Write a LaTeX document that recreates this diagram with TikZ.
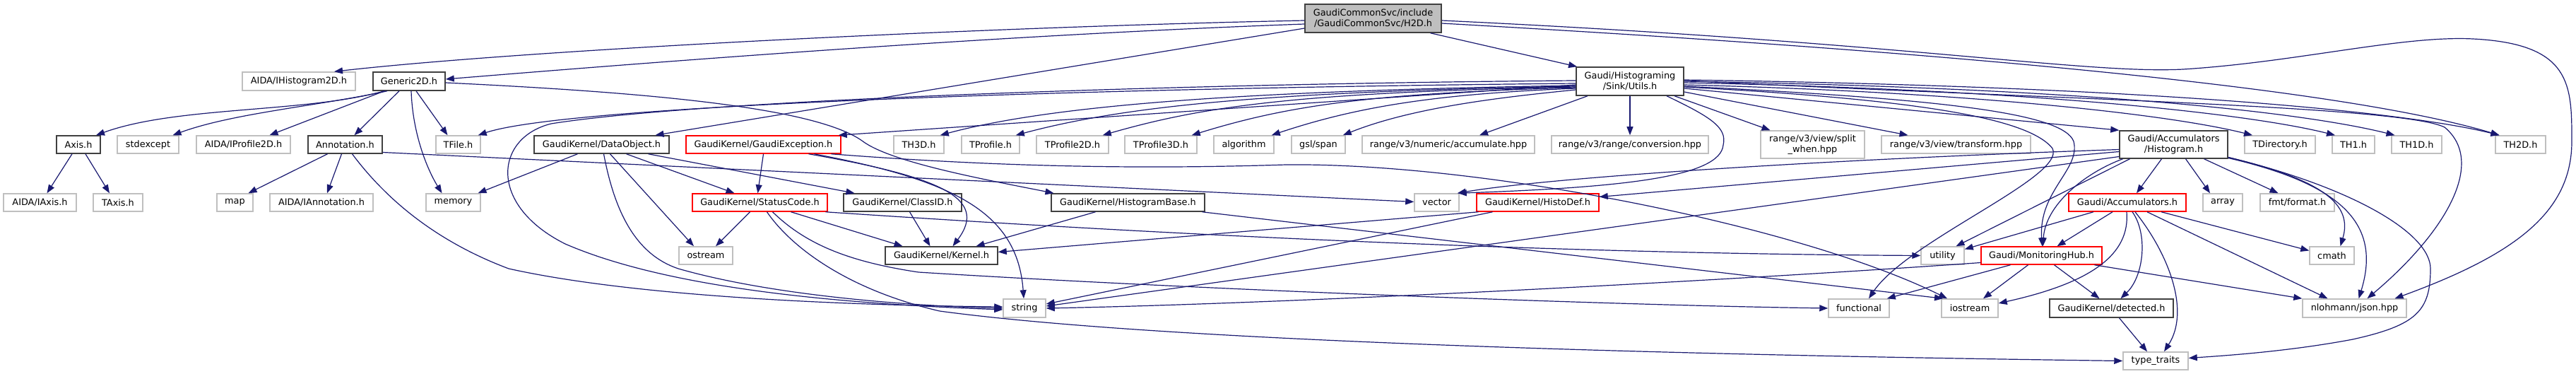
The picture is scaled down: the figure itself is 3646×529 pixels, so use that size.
\documentclass[tikz,border=0pt]{standalone}
\usepackage{fontspec}
\setmainfont{DejaVu Sans}
\usetikzlibrary{arrows.meta}
\definecolor{edgecol}{HTML}{191970}
\definecolor{boxgray}{HTML}{BFBFBF}
\definecolor{boxdark}{HTML}{404040}
\tikzset{
  incl/.style={draw=boxdark, line width=1.5pt, fill=white, minimum height=25pt,
    inner sep=0pt, align=center, font=\fontsize{12.85}{14.9}\selectfont},
  sysincl/.style={incl, draw=boxgray},
  cutincl/.style={incl, draw=red},
  topincl/.style={incl, fill=boxgray, minimum height=40pt},
  dep/.style={color=edgecol, line width=1.2pt, -{Triangle[length=12pt,width=9pt]}},
}
\begin{document}
\begin{tikzpicture}[x=1pt,y=-1pt]
\useasboundingbox (0,0) rectangle (3646,529);

% files
\node[topincl, minimum width=193pt] (root) at (1943.5,26) {GaudiCommonSvc/include\\/GaudiCommonSvc/H2D.h};

\node[sysincl, minimum width=160pt, minimum height=26pt] (ih2d) at (423,115) {AIDA/IHistogram2D.h};
\node[incl, minimum width=102pt, minimum height=26pt] (gen) at (579,115) {Generic2D.h};
\node[incl, minimum width=152pt, minimum height=40pt] (utils) at (2307,115) {Gaudi/Histograming\\/Sink/Utils.h};

\node[incl, minimum width=62pt] (axis) at (111,204.5) {Axis.h};
\node[sysincl, minimum width=87pt] (stdexc) at (209.5,204.5) {stdexcept};
\node[sysincl, minimum width=133pt] (ip2d) at (344.5,204.5) {AIDA/IProfile2D.h};
\node[incl, minimum width=105pt] (annot) at (488.5,204.5) {Annotation.h};
\node[sysincl, minimum width=63pt] (tfile) at (648.5,204.5) {TFile.h};
\node[incl, minimum width=191pt] (dobj) at (851.5,204.5) {GaudiKernel/DataObject.h};
\node[cutincl, minimum width=219pt] (gexc) at (1080.5,204.5) {GaudiKernel/GaudiException.h};
\node[sysincl, minimum width=71pt] (th3d) at (1300.5,204.5) {TH3D.h};
\node[sysincl, minimum width=82pt] (tprof) at (1402,204.5) {TProfile.h};
\node[sysincl, minimum width=102pt] (tprof2) at (1518,204.5) {TProfile2D.h};
\node[sysincl, minimum width=102pt] (tprof3) at (1643,204.5) {TProfile3D.h};
\node[sysincl, minimum width=85pt] (algo) at (1760.5,204.5) {algorithm};
\node[sysincl, minimum width=76pt] (span) at (1866,204.5) {gsl/span};
\node[sysincl, minimum width=244pt] (accum) at (2050,204.5) {range/v3/numeric/accumulate.hpp};
\node[sysincl, minimum width=222pt] (conv) at (2307,204.5) {range/v3/range/conversion.hpp};
\node[sysincl, minimum width=147pt, minimum height=39pt] (split) at (2565.5,204.5) {range/v3/view/split\\\_when.hpp};
\node[sysincl, minimum width=211pt] (trans) at (2768.5,204.5) {range/v3/view/transform.hpp};
\node[incl, minimum width=153pt, minimum height=39pt] (hist) at (3076.5,204.5) {Gaudi/Accumulators\\/Histogram.h};
\node[sysincl, minimum width=100pt] (tdir) at (3227,204.5) {TDirectory.h};
\node[sysincl, minimum width=60pt] (th1) at (3331,204.5) {TH1.h};
\node[sysincl, minimum width=71pt] (th1d) at (3420.5,204.5) {TH1D.h};
\node[sysincl, minimum width=71pt] (th2d) at (3567.5,204.5) {TH2D.h};

\node[sysincl, minimum width=103pt] (iaxis) at (56.5,286.5) {AIDA/IAxis.h};
\node[sysincl, minimum width=70pt] (taxis) at (167,286.5) {TAxis.h};
\node[sysincl, minimum width=51pt] (map) at (332.5,286.5) {map};
\node[sysincl, minimum width=146pt] (iannot) at (455,286.5) {AIDA/IAnnotation.h};
\node[sysincl, minimum width=77pt] (memory) at (641.5,286.5) {memory};
\node[cutincl, minimum width=191pt] (sc) at (1075.5,286.5) {GaudiKernel/StatusCode.h};
\node[incl, minimum width=167pt] (cid) at (1277.5,286.5) {GaudiKernel/ClassID.h};
\node[incl, minimum width=217pt] (hbase) at (1596.5,286.5) {GaudiKernel/HistogramBase.h};
\node[sysincl, minimum width=63pt] (vector) at (2033.5,286.5) {vector};
\node[cutincl, minimum width=173pt] (hdef) at (2176.5,286.5) {GaudiKernel/HistoDef.h};
\node[cutincl, minimum width=166pt] (accs) at (3011,286.5) {Gaudi/Accumulators.h};
\node[sysincl, minimum width=56pt] (array) at (3146,286.5) {array};
\node[sysincl, minimum width=105pt] (fmt) at (3251.5,286.5) {fmt/format.h};

\node[sysincl, minimum width=76pt] (ostream) at (999,361.5) {ostream};
\node[incl, minimum width=159pt] (kernel) at (1332.5,361.5) {GaudiKernel/Kernel.h};
\node[sysincl, minimum width=61pt] (utility) at (2749.5,361.5) {utility};
\node[cutincl, minimum width=171pt] (mhub) at (2889.5,361.5) {Gaudi/MonitoringHub.h};
\node[sysincl, minimum width=63pt] (cmath) at (3300.5,361.5) {cmath};

\node[sysincl, minimum width=60pt, minimum height=26pt] (string) at (1450,436) {string};
\node[sysincl, minimum width=86pt, minimum height=26pt] (func) at (2631,436) {functional};
\node[sysincl, minimum width=80pt, minimum height=26pt] (iostr) at (2788,436) {iostream};
\node[incl, minimum width=175pt, minimum height=26pt] (detect) at (2988.5,436) {GaudiKernel/detected.h};
\node[sysincl, minimum width=147pt, minimum height=26pt] (json) at (3332.5,436) {nlohmann/json.hpp};

\node[sysincl, minimum width=92pt] (ttraits) at (3051,510.5) {type\_traits};

% H2D.h
\draw[dep] ([yshift=-3pt]root.west) .. controls (1400,38) and (750,70) .. ([xshift=50pt]ih2d.north);
\draw[dep] ([yshift=-8pt]root.west) .. controls (1400,50) and (900,90) .. ([yshift=3pt]gen.east);
\draw[dep] ([xshift=81pt]root.south) -- ([xshift=-75pt]utils.north);
\draw[dep] ([yshift=-14pt]root.west) -- ([xshift=76pt]dobj.north);
\draw[dep] ([yshift=-7pt]root.east) .. controls (2700,70) and (3300,120) .. ([xshift=-30pt]th2d.north);
\draw[dep] ([yshift=-3pt]root.east) .. controls (2700,60) and (2950,105) .. (3090,98)
  .. controls (3250,88) and (3400,50) .. (3500,55) .. controls (3640,62) and (3640,120) .. (3640,200)
  .. controls (3640,300) and (3560,360) .. ([xshift=57pt]json.north);

% Generic2D.h
\draw[dep] ([xshift=-35pt]gen.south) .. controls (430,160) and (250,150) .. ([xshift=25pt]axis.north);
\draw[dep] ([xshift=-31pt]gen.south) .. controls (450,150) and (330,160) .. ([xshift=35pt]stdexc.north);
\draw[dep] ([xshift=-35pt]gen.south) -- ([xshift=37pt]ip2d.north);
\draw[dep] ([xshift=-14pt]gen.south) -- ([xshift=13pt]annot.north);
\draw[dep] ([xshift=3pt]gen.south) .. controls (584,190) and (605,240) .. ([xshift=-16pt]memory.north);
\draw[dep] ([xshift=10pt]gen.south) -- ([xshift=-15pt]tfile.north);
\draw[dep] ([yshift=-2pt]gen.east) .. controls (900,130) and (1150,150) .. (1220,199)
  .. controls (1260,230) and (1400,255) .. ([xshift=-105pt]hbase.north);

% Axis.h, Annotation.h
\draw[dep] ([xshift=-9pt]axis.south) -- ([xshift=10pt]iaxis.north);
\draw[dep] ([xshift=10pt]axis.south) -- ([xshift=-12pt]taxis.north);
\draw[dep] ([xshift=-25pt]annot.south) -- ([xshift=19pt]map.north);
\draw[dep] ([xshift=-5pt]annot.south) -- ([xshift=8pt]iannot.north);
\draw[dep] ([xshift=10pt]annot.south) .. controls (560,300) and (640,350) .. (720,380)
  .. controls (900,420) and (1200,432) .. ([yshift=2pt]string.west);
\draw[dep] ([yshift=-11pt]annot.east) -- ([yshift=1pt]vector.west);

% DataObject.h
\draw[dep] ([xshift=-34pt]dobj.south) -- ([xshift=35pt]memory.north);
\draw[dep] ([xshift=3pt]dobj.south) .. controls (870,300) and (900,360) .. (960,380)
  .. controls (1100,420) and (1300,433) .. (string.west);
\draw[dep] ([xshift=12pt]dobj.south) -- ([xshift=-17pt]ostream.north);
\draw[dep] ([xshift=35pt]dobj.south) -- ([xshift=-36pt]sc.north);
\draw[dep] ([xshift=66pt]dobj.south) -- ([xshift=-68pt]cid.north);

% GaudiException.h
\draw[dep] (gexc.south) -- ([xshift=-3pt]sc.north);
\draw[dep] ([xshift=64pt]gexc.south) .. controls (1330,250) and (1400,280) .. ([xshift=16pt]kernel.north);
\draw[dep] ([xshift=72pt]gexc.south) .. controls (1350,255) and (1440,300) .. ([xshift=-1pt]string.north);
\draw[dep] ([xshift=96pt]gexc.south) .. controls (1400,235) and (1600,240) .. (1820,233)
  .. controls (2100,230) and (2550,320) .. ([xshift=-32pt]iostr.north);

% StatusCode.h
\draw[dep] ([xshift=-14pt]sc.south) -- ([xshift=14pt]ostream.north);
\draw[dep] ([xshift=44pt]sc.south) -- ([xshift=-55pt]kernel.north);
\draw[dep] ([xshift=93pt]sc.south) .. controls (1500,322) and (2100,358) .. (utility.west);
\draw[dep] ([xshift=18pt]sc.south) .. controls (1140,345) and (1200,370) .. (1300,385)
  .. controls (1700,410) and (2300,432) .. (func.west);
\draw[dep] ([xshift=10pt]sc.south) .. controls (1120,350) and (1200,410) .. (1330,440)
  .. controls (1700,490) and (2600,505) .. (ttraits.west);

% ClassID.h, HistogramBase.h, HistoDef.h
\draw[dep] ([xshift=10pt]cid.south) -- ([xshift=-16pt]kernel.north);
\draw[dep] ([xshift=-46pt]hbase.south) -- ([xshift=49pt]kernel.north);
\draw[dep] ([xshift=105pt]hbase.south) -- ([xshift=-38pt]iostr.north);
\draw[dep] ([xshift=-84pt]hdef.south) -- ([yshift=5pt]kernel.east);
\draw[dep] ([xshift=-64pt]hdef.south) -- ([yshift=6pt]string.east);

% Accumulators/Histogram.h
\draw[dep] ([xshift=-17pt]hist.south) -- ([xshift=13pt]accs.north);
\draw[dep] ([xshift=17pt]hist.south) -- ([xshift=-18pt]array.north);
\draw[dep] ([xshift=43pt]hist.south) -- ([xshift=-27pt]fmt.north);
\draw[dep] ([yshift=-18pt]hist.east) .. controls (3290,255) and (3330,290) .. ([xshift=12pt]cmath.north);
\draw[dep] ([yshift=-19pt]hist.east) .. controls (3320,262) and (3370,320) .. ([xshift=6pt]json.north);
\draw[dep] ([yshift=-18pt]hist.east) .. controls (3330,265) and (3440,330) .. (3440,380)
  .. controls (3440,440) and (3420,460) .. (3330,480) .. controls (3240,497) and (3150,503) .. ([yshift=4pt]ttraits.east);
\draw[dep] ([xshift=-62pt]hist.south) -- ([xshift=19pt]utility.north);
\draw[dep] ([xshift=-72pt]hist.south) .. controls (2950,245) and (2895,290) .. ([xshift=2pt]mhub.north);
\draw[dep] ([yshift=-10pt]hist.west) -- ([yshift=8pt]hdef.east);
\draw[dep] ([yshift=-7pt]hist.west) .. controls (2600,225) and (2200,250) .. ([xshift=-3pt]vector.north east);
\draw[dep] ([yshift=-17pt]hist.west) -- ([yshift=3pt]string.east);

% Accumulators.h
\draw[dep] ([xshift=-48pt]accs.south) -- ([yshift=9pt]utility.east);
\draw[dep] ([xshift=-21pt]accs.south) -- ([xshift=22pt]mhub.north);
\draw[dep] ([xshift=-1pt]accs.south) .. controls (3015,360) and (2960,400) .. ([yshift=7pt]iostr.east);
\draw[dep] ([xshift=7pt]accs.south) .. controls (3040,330) and (3035,390) .. ([xshift=13pt]detect.north);
\draw[dep] ([xshift=11pt]accs.south) .. controls (3070,360) and (3100,440) .. ([xshift=12pt]ttraits.north);
\draw[dep] ([xshift=28pt]accs.south) -- ([xshift=-38pt]json.north);
\draw[dep] ([xshift=48pt]accs.south) -- ([yshift=7pt]cmath.west);

% MonitoringHub.h, detected.h
\draw[dep] ([yshift=-10pt]mhub.west) .. controls (2400,400) and (1800,430) .. (string.east);
\draw[dep] ([xshift=-44pt]mhub.south) -- ([xshift=-4pt]func.north east);
\draw[dep] ([xshift=-19pt]mhub.south) -- ([xshift=19pt]iostr.north);
\draw[dep] ([xshift=18pt]mhub.south) -- ([xshift=-17pt]detect.north);
\draw[dep] ([xshift=75pt]mhub.south) -- (json.north west);
\draw[dep] ([xshift=11pt]detect.south) -- ([xshift=-12pt]ttraits.north);

% Sink/Utils.h
\draw[dep] ([yshift=-3pt]utils.west) .. controls (1500,125) and (800,150) .. ([xshift=-4pt]tfile.north east);
\draw[dep] ([yshift=-5pt]utils.west) -- ([xshift=-4pt]gexc.north east);
\draw[dep] ([yshift=-6pt]utils.west) .. controls +(-500,8) and +(150,-40) .. ([xshift=-6pt]th3d.north east);
\draw[dep] ([yshift=-7pt]utils.west) .. controls +(-450,8) and +(150,-40) .. ([xshift=-6pt]tprof.north east);
\draw[dep] ([yshift=-8pt]utils.west) .. controls +(-400,8) and +(140,-40) .. ([xshift=-9pt]tprof2.north east);
\draw[dep] ([yshift=-9pt]utils.west) .. controls +(-300,8) and +(130,-40) .. ([xshift=-8pt]tprof3.north east);
\draw[dep] ([yshift=-10pt]utils.west) .. controls +(-200,8) and +(120,-40) .. ([xshift=-4pt]algo.north east);
\draw[dep] ([yshift=-12pt]utils.west) .. controls +(-100,10) and +(100,-40) .. ([xshift=-4pt]span.north east);
\draw[dep] ([xshift=-60pt]utils.south) -- ([xshift=44pt]accum.north);
\draw[dep] (utils.south) -- (conv.north);
\draw[dep] ([xshift=63pt]utils.south) -- ([xshift=-60pt]split.north);
\draw[dep] ([yshift=-15pt]utils.east) -- ([xshift=-68pt]trans.north);
\draw[dep] ([yshift=-10pt]utils.east) -- (hist.north west);
\draw[dep] ([yshift=-5pt]utils.east) .. controls +(400,10) and +(-120,-30) .. ([xshift=-39pt]tdir.north);
\draw[dep] ([yshift=-2pt]utils.east) .. controls +(500,10) and +(-120,-30) .. ([xshift=-26pt]th1.north);
\draw[dep] (utils.east) .. controls +(600,10) and +(-120,-30) .. ([xshift=-31pt]th1d.north);
\draw[dep] ([yshift=2pt]utils.east) .. controls +(700,10) and +(-120,-30) .. ([xshift=-30pt]th2d.north);
\draw[dep] ([yshift=1pt]utils.east) .. controls (2900,140) and (3400,150) .. (3460,180)
  .. controls (3520,230) and (3460,330) .. ([xshift=18pt]json.north);
\draw[dep] ([yshift=-7pt]utils.east) .. controls (2750,140) and (2920,160) .. (2935,200)
  .. controls (2945,240) and (2885,270) .. ([xshift=1pt]mhub.north);
\draw[dep] ([yshift=-8pt]utils.east) .. controls (2700,140) and (2870,165) .. (2905,210)
  .. controls (2925,250) and (2700,340) .. ([xshift=14pt]func.north);
\draw[dep] ([xshift=52pt]utils.south) .. controls (2420,165) and (2445,180) .. (2439,205)
  .. controls (2435,250) and (2300,265) .. ([xshift=-2pt]vector.north east);
\draw[dep] ([yshift=1pt]utils.west) .. controls (1700,118) and (1000,140) .. (780,175)
  .. controls (700,195) and (690,290) .. (800,345) .. controls (950,410) and (1200,430) .. ([yshift=-2pt]string.west);
\end{tikzpicture}
\end{document}
